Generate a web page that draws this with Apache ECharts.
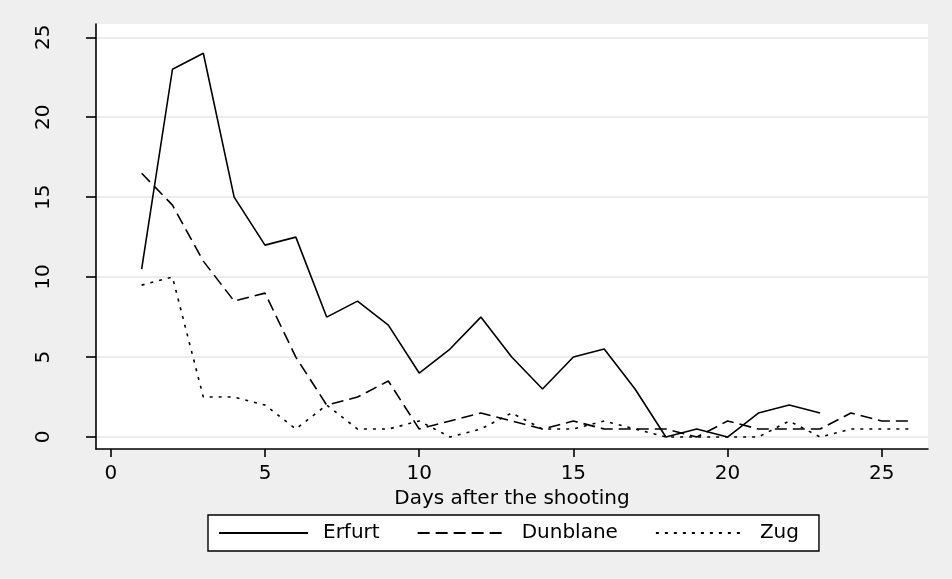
<!DOCTYPE html>
<html>
<head>
<meta charset="utf-8">
<script src="https://cdn.jsdelivr.net/npm/echarts@6/dist/echarts.min.js"></script>
<style>
html,body{margin:0;padding:0;background:#efefef;}
#chart{width:952px;height:579px;}
</style>
</head>
<body>
<div id="chart"></div>
<script>
const days = [1,2,3,4,5,6,7,8,9,10,11,12,13,14,15,16,17,18,19,20,21,22,23,24,25,26];
const erfurt = [10.5,23,24,15,12,12.5,7.5,8.5,7,4,5.5,7.5,5,3,5,5.5,3,0,0.5,0,1.5,2,1.5];
const dunblane = [16.5,14.5,11,8.5,9,5,2,2.5,3.5,0.5,1,1.5,1,0.5,1,0.5,0.5,0.5,0,1,0.5,0.5,0.5,1.5,1,1];
const zug = [9.5,10,2.5,2.5,2,0.5,2,0.5,0.5,1,0,0.5,1.5,0.5,0.5,1,0.5,0,0,0,0,1,0,0.5,0.5,0.5];
const xTicks = [0,5,10,15,20,25];
const yTicks = [0,5,10,15,20,25];
const seriesNames = ['Erfurt','Dunblane','Zug'];
const xTitle = 'Days after the shooting';

const FONT = 'DejaVu Sans';
function pairs(vals){ return vals.map((v,i)=>[days[i], v]); }

const chart = echarts.init(document.getElementById('chart'));
chart.setOption({
  animation: false,
  backgroundColor: '#efefef',
  textStyle: {fontFamily: FONT},
  grid: {left: 96, right: 24, top: 24, bottom: 130, show: true, backgroundColor: '#ffffff', borderWidth: 0},
  xAxis: {
    type: 'value', min: -0.48, max: 26.5,
    name: xTitle, nameLocation: 'middle', nameGap: 45,
    nameTextStyle: {fontFamily: FONT, fontSize: 20, color: '#000', verticalAlign: 'middle'},
    axisLine: {show: true, onZero: false, lineStyle: {color: '#000', width: 1.6}},
    axisTick: {show: true, length: 8, customValues: xTicks, lineStyle: {color: '#000', width: 1.6}},
    axisLabel: {customValues: xTicks, margin: 25, fontFamily: FONT, fontSize: 20, color: '#000', verticalAlign: 'middle'},
    splitLine: {show: false}
  },
  yAxis: {
    type: 'value', min: -0.75, max: 25.83,
    axisLine: {show: true, onZero: false, lineStyle: {color: '#000', width: 1.6}},
    axisTick: {show: true, length: 10, customValues: yTicks, lineStyle: {color: '#000', width: 1.6}},
    axisLabel: {customValues: yTicks, rotate: 90, margin: 52, align: 'center', verticalAlign: 'middle', fontFamily: FONT, fontSize: 20, color: '#000'},
    splitLine: {show: true, lineStyle: {color: '#e6e6e6', width: 1.5}}
  },
  legend: {
    data: seriesNames,
    left: 208, top: 515,
    orient: 'horizontal',
    itemWidth: 89, itemHeight: 14, itemGap: 37,
    padding: [7, 20, 7, 10],
    backgroundColor: '#ffffff',
    borderColor: '#000', borderWidth: 1.4, borderRadius: 0,
    itemStyle: {opacity: 0, color: 'transparent', borderWidth: 0},
    textStyle: {fontFamily: FONT, fontSize: 20, color: '#000', lineHeight: 22, padding: [0,0,0,10]}
  },
  series: [
    {name: seriesNames[0], type: 'line', data: pairs(erfurt), symbol: 'none', color: '#000',
     lineStyle: {color: '#000', width: 1.6, type: 'solid'}, itemStyle: {color: '#000', opacity: 0}},
    {name: seriesNames[1], type: 'line', data: pairs(dunblane), symbol: 'none', color: '#000',
     lineStyle: {color: '#000', width: 1.6, type: [12, 6]}, itemStyle: {color: '#000', opacity: 0}},
    {name: seriesNames[2], type: 'line', data: pairs(zug), symbol: 'none', color: '#000',
     lineStyle: {color: '#000', width: 1.6, type: [3, 6]}, itemStyle: {color: '#000', opacity: 0}}
  ]
});
</script>
</body>
</html>
